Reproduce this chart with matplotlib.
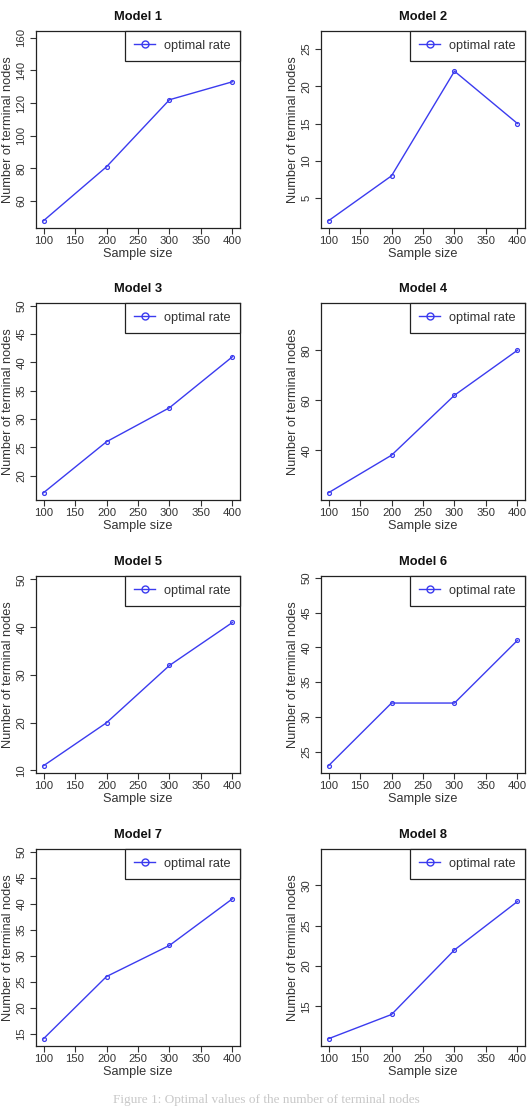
import numpy as np
import matplotlib.pyplot as plt
from matplotlib.lines import Line2D

plt.rcParams['font.family'] = ['Liberation Sans', 'DejaVu Sans']

sample_size = [100, 200, 300, 400]

titles = ['Model 1', 'Model 2', 'Model 3', 'Model 4',
          'Model 5', 'Model 6', 'Model 7', 'Model 8']

nodes_m1 = [48, 81, 122, 133]
nodes_m2 = [2, 8, 22, 15]
nodes_m3 = [17, 26, 32, 41]
nodes_m4 = [23, 38, 62, 80]
nodes_m5 = [11, 20, 32, 41]
nodes_m6 = [23, 32, 32, 41]
nodes_m7 = [14, 26, 32, 41]
nodes_m8 = [11, 14, 22, 28]

y_ticks = [
    [60, 80, 100, 120, 140, 160],
    [5, 10, 15, 20, 25],
    [20, 25, 30, 35, 40, 45, 50],
    [40, 60, 80],
    [10, 20, 30, 40, 50],
    [25, 30, 35, 40, 45, 50],
    [15, 20, 25, 30, 35, 40, 45, 50],
    [15, 20, 25, 30],
]

all_nodes = [nodes_m1, nodes_m2, nodes_m3, nodes_m4,
             nodes_m5, nodes_m6, nodes_m7, nodes_m8]

W, H = 532, 1108
fig = plt.figure(figsize=(W / 100, H / 100), dpi=100)

line_col = '#3b3bef'
txt_col = '#333333'
row_tops = [31, 303, 576, 849]
col_lefts = [36, 321]
aw, ah = 204, 197


def r_range(lo, hi):
    # R style 4% axis padding
    d = (hi - lo) * 0.04
    return lo - d, hi + d


for i, y in enumerate(all_nodes):
    r, c = divmod(i, 2)
    left = col_lefts[c] / W
    bottom = 1 - (row_tops[r] + ah) / H
    ax = fig.add_axes([left, bottom, aw / W, ah / H])

    ax.plot(sample_size, y, color=line_col, lw=1.0, marker='o', ms=2.8,
            mfc='none', mec=line_col, mew=0.9)

    ax.set_xlim(*r_range(100, 400))
    ax.set_ylim(*r_range(min(y), 1.2 * max(y)))
    ax.set_xticks([100, 150, 200, 250, 300, 350, 400])
    ax.set_yticks(y_ticks[i])
    ax.tick_params(axis='both', direction='out', length=4, width=0.8,
                   colors=txt_col, labelsize=8.2, pad=2)
    ax.tick_params(axis='y', pad=3)
    for lab in ax.get_yticklabels():
        lab.set_rotation(90)
        lab.set_va('center')
    for sp in ax.spines.values():
        sp.set_color('#222222')
        sp.set_linewidth(0.9)

    ax.set_xlabel('Sample size', fontsize=9.2, color=txt_col, labelpad=1.5)
    ax.set_ylabel('Number of terminal nodes', fontsize=9.2, color=txt_col,
                  labelpad=1.5)
    ax.set_title(titles[i], fontsize=9.3, fontweight='bold', color='#111111',
                 pad=8)

    handle = Line2D([], [], color=line_col, lw=1.0, marker='o', ms=5,
                    mfc='none', mec=line_col, mew=1.0)
    leg = ax.legend([handle], ['optimal rate'], loc='upper right',
                    borderaxespad=0, fancybox=False, framealpha=1,
                    edgecolor='#222222', fontsize=9.2, borderpad=0.7,
                    handlelength=1.6, handletextpad=0.75)
    leg.get_frame().set_linewidth(0.9)
    for t in leg.get_texts():
        t.set_color(txt_col)

fig.text(0.5, 1.5 / H,
         'Figure 1: Optimal values of the number of terminal nodes',
         ha='center', va='bottom', fontsize=9.5, color='#c8c8c8',
         family=['Liberation Serif', 'DejaVu Serif'])

fig.savefig('out.png', dpi=100, facecolor='white')
